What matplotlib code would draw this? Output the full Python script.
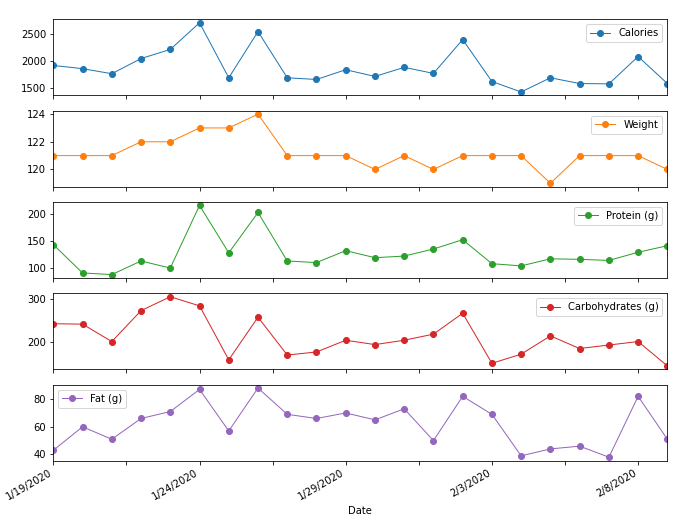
import matplotlib
matplotlib.use('Agg')
import matplotlib.pyplot as plt
import matplotlib.ticker as mticker
import numpy as np

plt.rcParams['font.family'] = ['DejaVu Sans']

# daily log, 1/19/2020 - 2/9/2020
dates = ['1/19/2020', '1/20/2020', '1/21/2020', '1/22/2020', '1/23/2020', '1/24/2020',
         '1/25/2020', '1/26/2020', '1/27/2020', '1/28/2020', '1/29/2020', '1/30/2020',
         '1/31/2020', '2/1/2020', '2/2/2020', '2/3/2020', '2/4/2020', '2/5/2020',
         '2/6/2020', '2/7/2020', '2/8/2020', '2/9/2020']
calories = [1915, 1855, 1760, 2045, 2215, 2715, 1684, 2550, 1684, 1652, 1835,
            1709, 1880, 1766, 2400, 1614, 1418, 1684, 1576, 1570, 2082, 1576]
weight = [121, 121, 121, 122, 122, 123, 123, 124, 121, 121, 121,
          120, 121, 120, 121, 121, 121, 119, 121, 121, 121, 120]
protein = [143, 91, 88, 113, 100, 215, 128, 202, 113, 110, 132,
           119, 122, 135, 152, 108, 104, 117, 116, 114, 129, 141]
carbs = [243, 242, 202, 273, 305, 284, 160, 258, 171, 178, 205,
         195, 205, 219, 267, 152, 173, 215, 186, 194, 202, 146]
fat = [43, 60, 51, 66, 71, 87, 57, 88, 69, 66, 70,
       65, 73, 50, 82, 69, 39, 44, 46, 38, 82, 51]

series = [('Calories', calories, 'upper right'),
          ('Weight', weight, 'upper right'),
          ('Protein (g)', protein, 'upper right'),
          ('Carbohydrates (g)', carbs, 'upper right'),
          ('Fat (g)', fat, 'upper left')]

x = np.arange(len(dates))

fig, axes = plt.subplots(5, 1, sharex=True, figsize=(688/72, 528/72), dpi=72)
for i, (name, vals, loc) in enumerate(series):
    ax = axes[i]
    ax.plot(x, vals, marker='o', color='C%d' % i, linewidth=1, markersize=6, label=name)
    ax.legend(loc=loc)
    ax.set_xlim(0, len(dates) - 1)


def fmt(v, pos):
    # only integer positions get a date label
    if abs(v - round(v)) < 1e-6 and 0 <= int(round(v)) < len(dates):
        return dates[int(round(v))]
    return ''


axes[-1].xaxis.set_major_formatter(mticker.FuncFormatter(fmt))
axes[-1].set_xlabel('Date')
fig.autofmt_xdate()
fig.subplots_adjust(left=0.0775, right=0.970, top=0.9634, bottom=0.1275, hspace=0.2)
fig.savefig('out.png', dpi=72)
